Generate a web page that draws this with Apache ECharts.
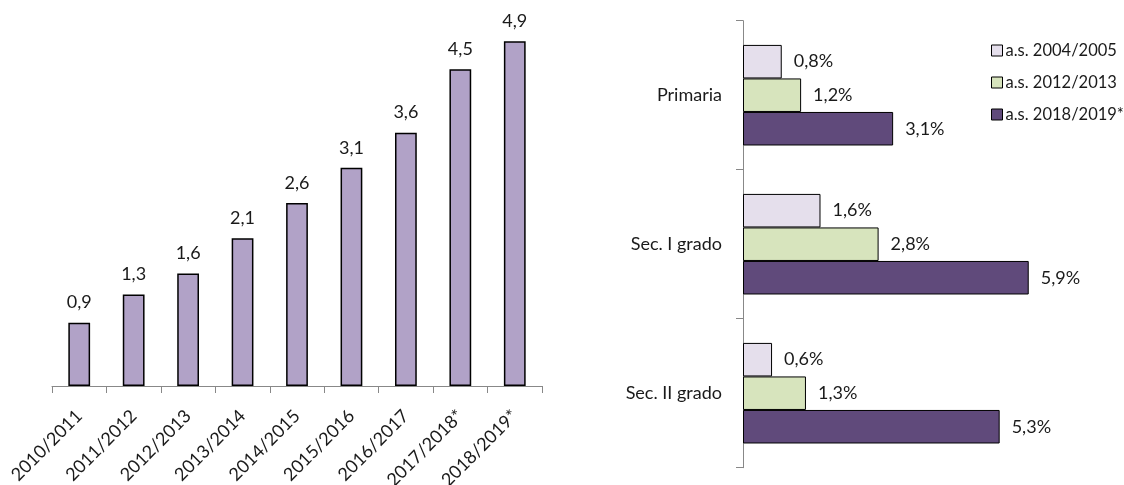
<!DOCTYPE html>
<html>
<head>
<meta charset="utf-8">
<script src="https://cdn.jsdelivr.net/npm/echarts@6/dist/echarts.min.js"></script>
<style>
html,body{margin:0;padding:0;background:#fff;}
#chart{width:1124px;height:485px;}
</style>
</head>
<body>
<div id="chart"></div>
<script>
// Left chart data
const years = ['2010/2011','2011/2012','2012/2013','2013/2014','2014/2015','2015/2016','2016/2017','2017/2018*','2018/2019*'];
const shares = [0.9, 1.3, 1.6, 2.1, 2.6, 3.1, 3.6, 4.5, 4.9];

// Right chart data
const levels = ['Primaria', 'Sec. I grado', 'Sec. II grado'];
const seriesNames = ['a.s. 2004/2005', 'a.s. 2012/2013', 'a.s. 2018/2019*'];
const as2004 = [0.8, 1.6, 0.6];
const as2012 = [1.2, 2.8, 1.3];
const as2018 = [3.1, 5.9, 5.3];

const FONT = 'Lato, "Noto Sans", sans-serif';
const FS = 18;
const TXT = '#1a1a1a';
const colors = ['#E5DFEC', '#D7E4BD', '#604A7B'];
const fmtComma = v => v.toFixed(1).replace('.', ',');

const chart = echarts.init(document.getElementById('chart'), null, {renderer: 'canvas'});

const rightValues = [as2004, as2012, as2018];
const rightSeries = seriesNames.map((name, i) => ({
  name: name,
  type: 'bar',
  xAxisIndex: 1,
  yAxisIndex: 1,
  data: rightValues[i],
  barGap: '0%',
  barCategoryGap: '32.5%',
  itemStyle: {color: colors[i], borderColor: '#000', borderWidth: 1},
  label: {
    show: true,
    position: 'right',
    distance: 12,
    formatter: p => fmtComma(p.value) + '%',
    fontFamily: FONT,
    fontSize: FS,
    color: TXT
  }
}));

chart.setOption({
  animation: false,
  textStyle: {fontFamily: FONT},
  grid: [
    {left: 52, right: 582, top: 6, bottom: 99, containLabel: false, outerBoundsMode: 'none'},
    {left: 743, right: 42, top: 20.7, bottom: 17.3, containLabel: false, outerBoundsMode: 'none'}
  ],
  legend: {
    orient: 'vertical',
    left: 986,
    top: 37,
    itemWidth: 11,
    itemHeight: 11,
    itemGap: 15,
    icon: 'rect',
    data: seriesNames,
    itemStyle: {borderColor: '#000', borderWidth: 1},
    textStyle: {fontFamily: FONT, fontSize: 16.5, color: TXT, padding: [0, 0, 0, -2]}
  },
  xAxis: [
    {
      type: 'category',
      gridIndex: 0,
      data: years,
      axisLine: {lineStyle: {color: '#888', width: 1}},
      axisTick: {show: true, length: 7, lineStyle: {color: '#888'}},
      axisLabel: {rotate: 45, margin: 27, fontFamily: FONT, fontSize: FS, color: TXT, interval: 0}
    },
    {
      type: 'value',
      gridIndex: 1,
      min: 0,
      max: 7,
      show: false,
      splitLine: {show: false}
    }
  ],
  yAxis: [
    {
      type: 'value',
      gridIndex: 0,
      min: 0,
      max: 5.4,
      show: false,
      splitLine: {show: false}
    },
    {
      type: 'category',
      gridIndex: 1,
      data: levels,
      inverse: true,
      axisLine: {lineStyle: {color: '#888', width: 1}},
      axisTick: {show: true, length: 7, lineStyle: {color: '#888'}},
      axisLabel: {margin: 21, fontFamily: FONT, fontSize: FS, color: TXT}
    }
  ],
  series: [
    {
      name: 'Left',
      type: 'bar',
      xAxisIndex: 0,
      yAxisIndex: 0,
      data: shares,
      barWidth: '40%',
      itemStyle: {color: '#B1A2C7', borderColor: '#000', borderWidth: 1.5},
      label: {
        show: true,
        position: 'top',
        distance: 11,
        formatter: p => fmtComma(p.value),
        fontFamily: FONT,
        fontSize: FS,
        color: TXT
      }
    }
  ].concat(rightSeries)
});
</script>
</body>
</html>
